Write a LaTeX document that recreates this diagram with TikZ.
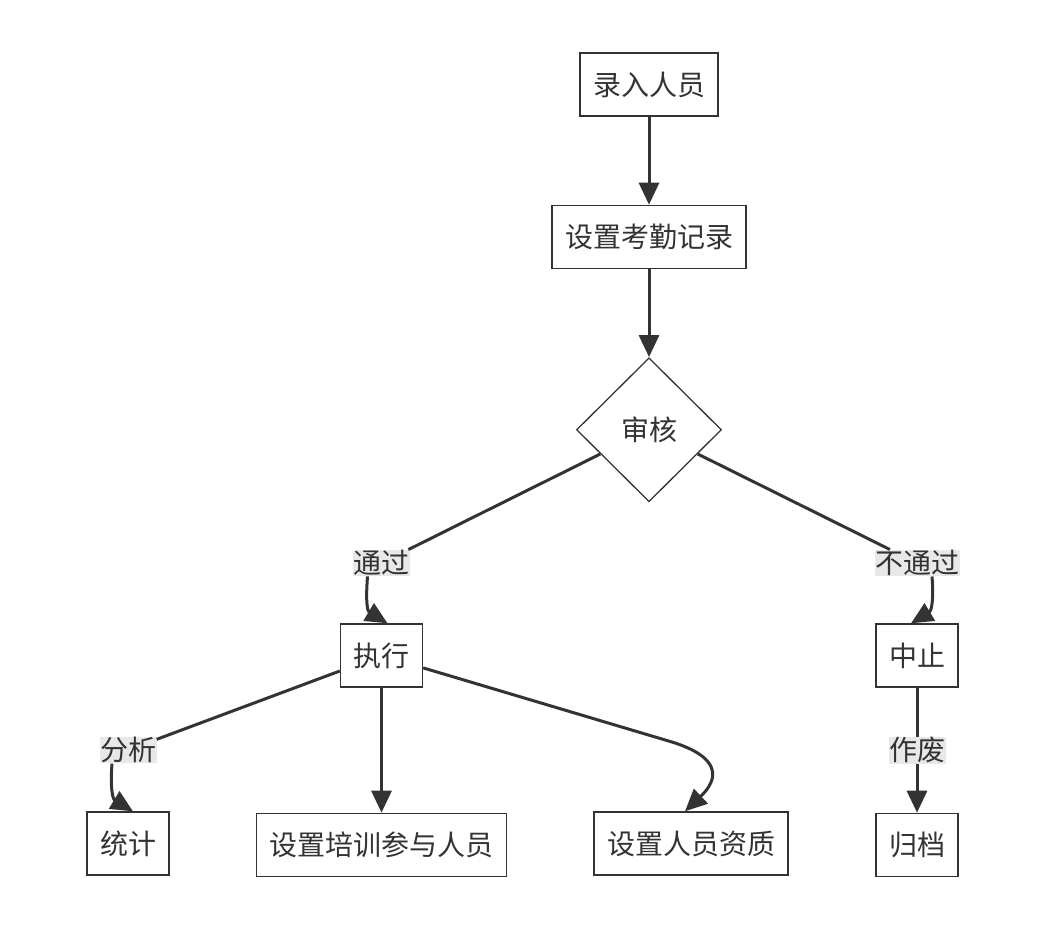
\documentclass[tikz,border=0pt]{standalone}
\usepackage{fontspec}
\setmainfont{Noto Sans CJK SC}
\usetikzlibrary{arrows.meta,positioning,shapes.geometric}
\definecolor{ink}{HTML}{333333}
\definecolor{labelgray}{HTML}{E8E8E8}
\tikzset{
  stepbox/.style={draw=ink, line width=1.4pt, fill=white, text=ink,
    minimum height=63pt, inner xsep=13pt, font=\fontsize{28}{33}\selectfont},
  checkbox/.style={diamond, draw=ink, line width=1.3pt, fill=white, text=ink, aspect=1,
    minimum width=145pt, minimum height=144pt, inner sep=0pt, font=\fontsize{28}{33}\selectfont},
  edgelabel/.style={fill=labelgray, text=ink, inner sep=0.5pt, font=\fontsize{28}{33}\selectfont},
  link/.style={draw=ink, line width=3pt},
  flow/.style={link, -{Triangle[length=22pt,width=20pt]}}
}

\begin{document}
\begin{tikzpicture}[x=1pt, y=-1pt]
\useasboundingbox (0,0) rectangle (1046,932);

\node[stepbox] (entry) at (649,84.5) {录入人员};
\node[stepbox, below=88pt of entry] (attend) {设置考勤记录};
\node[checkbox, below=88pt of attend] (audit) {审核};
\node[stepbox] (exec) at (381.5,655.5) {执行};
\node[stepbox] (halt) at (917,655.5) {中止};
\node[stepbox, below=125pt of exec] (train) {设置培训参与人员};
\node[stepbox] (stats) at (128,843.5) {统计};
\node[stepbox] (qual) at (691,843.5) {设置人员资质};
\node[stepbox, below=125pt of halt] (archive) {归档};

% edge labels
\node[edgelabel] (pass) at (381.5,563) {通过};
\node[edgelabel] (fail) at (917,563) {不通过};
\node[edgelabel] (anal) at (128,750) {分析};
\coordinate (bend) at (672,742);

\draw[flow] (entry) -- (attend);
\draw[flow] (attend) -- (audit);

\draw[link] (audit) -- (pass);
\draw[flow] ([xshift=-14pt]pass.south) .. controls +(-2,26) and +(-20,-12) .. ([xshift=6pt]exec.north);
\draw[link] (audit) -- (fail);
\draw[flow] ([xshift=15pt]fail.south) .. controls +(2,26) and +(20,-12) .. ([xshift=-6pt]halt.north);

\draw[link] (exec) -- (anal);
\draw[flow] ([xshift=-16pt]anal.south) .. controls +(-2,26) and +(-20,-12) .. ([xshift=5pt]stats.north);
\draw[flow] (exec) -- (train);
\draw[flow] (exec) -- (bend) .. controls (720,757) and (720,778) .. ([xshift=-6pt]qual.north);

\draw[flow] (halt) -- node[edgelabel] (void) {作废} (archive);
\end{tikzpicture}
\end{document}
